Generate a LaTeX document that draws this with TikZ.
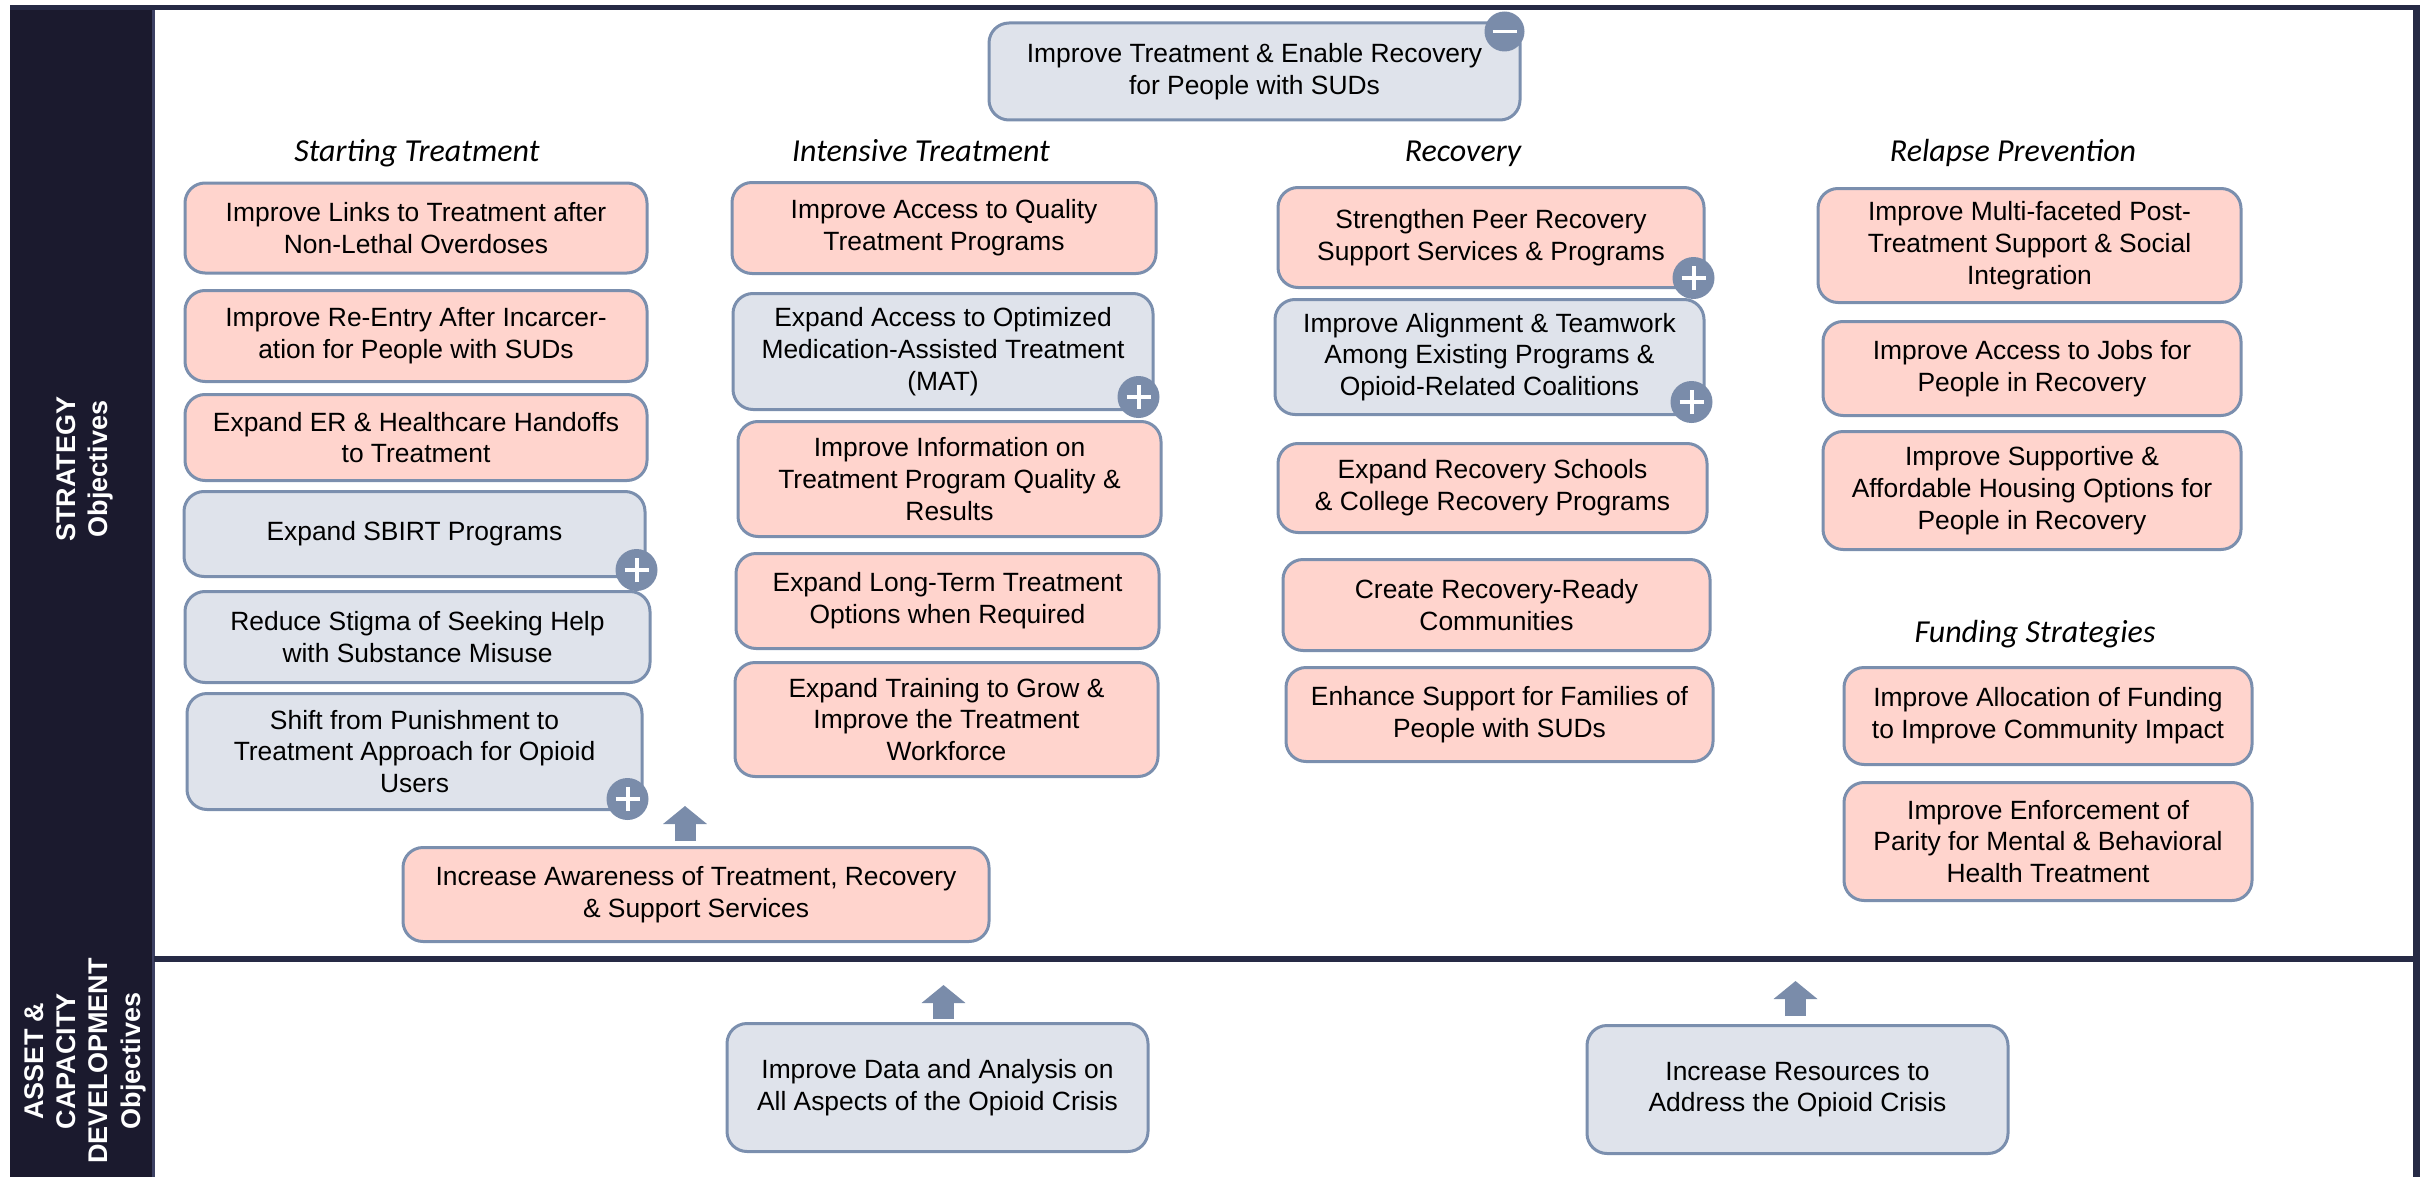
\documentclass[tikz,border=0pt]{standalone}
\usepackage{fontspec}
\setmainfont{Liberation Sans}
\newfontfamily\headfont{Carlito}
\usetikzlibrary{arrows.meta,positioning}
\definecolor{pinkc}{HTML}{FFD4CD}
\definecolor{grayc}{HTML}{DFE3EB}
\definecolor{edgec}{HTML}{7B8FAE}
\definecolor{markc}{HTML}{7A8CAA}
\definecolor{framec}{HTML}{262A45}
\definecolor{sidec}{HTML}{1B1A2E}
\definecolor{sideedge}{HTML}{3D4163}
\tikzset{>=Triangle,
  obj/.style={draw=edgec, line width=1.5pt, rounded corners=10pt, align=center,
    inner sep=2pt, font=\fontsize{13.2}{15.85}\selectfont},
  pinkobj/.style={obj, fill=pinkc},
  grayobj/.style={obj, fill=grayc},
  head/.style={anchor=base, font=\headfont\itshape\fontsize{16}{18}\selectfont},
  side/.style={text=white, align=center, rotate=90, font=\bfseries\fontsize{13.5}{16.2}\selectfont},
  plusmark/.style={circle, fill=markc, minimum size=21pt, inner sep=0pt,
    path picture={\draw[white, line width=2pt]
      ([xshift=-6pt]path picture bounding box.center) -- ([xshift=6pt]path picture bounding box.center)
      ([yshift=-6pt]path picture bounding box.center) -- ([yshift=6pt]path picture bounding box.center);}},
  minusmark/.style={circle, fill=markc, minimum size=20pt, inner sep=0pt,
    path picture={\draw[white, line width=1.8pt]
      ([xshift=-6pt]path picture bounding box.center) -- ([xshift=6pt]path picture bounding box.center);}},
  blockarrow/.style={draw=markc, line width=10.5pt, -{Triangle[width=21.5pt,length=9pt]}}
}

\begin{document}
\begin{tikzpicture}[x=0.5pt,y=-0.5pt]
    \useasboundingbox (0,0) rectangle (2420,1177);
    \fill[sidec] (10,5) rectangle (154,1177);
    \draw[sideedge, line width=1.5pt] (153,10) -- (153,1177);
    \draw[framec, line width=2.5pt] (10,7.5) -- (2420,7.5);
    \draw[framec, line width=3.5pt] (2416.5,7.5) -- (2416.5,1177);
    \draw[framec, line width=3pt] (154,959) -- (2416,959);

    \node[side] (sideS) at (85,469) {STRATEGY\\Objectives};
    \node[side] (sideA) at (85,1061) {ASSET \&\\CAPACITY\\DEVELOPMENT\\Objectives};

    \node[grayobj, minimum width=265.5pt, minimum height=48.5pt] (top) at (1254.5,71.5)
        {Improve Treatment \& Enable Recovery\\for People with SUDs};
    \node[minusmark] (topm) at ([xshift=-8.5pt,yshift=-5pt]top.north east) {};

    \node[head] (hST) at (417,162) {Starting Treatment};
    \node[head] (hIT) at (921,162) {Intensive Treatment};
    \node[head] (hRC) at (1463,162) {Recovery};
    \node[head] (hRP) at (2013,162) {Relapse Prevention};
    \node[head] (hFS) at (2035,642) {Funding Strategies};

    \node[pinkobj, minimum width=231pt, minimum height=45pt] (st1) at (416,228)
        {Improve Links to Treatment after\\Non-Lethal Overdoses};
    \node[pinkobj, minimum width=231pt, minimum height=45.5pt] (st2) at (416,336)
        {Improve Re-Entry After Incarcer-\\ation for People with SUDs};
    \node[pinkobj, minimum width=231pt, minimum height=43pt] (st3) at (416,437.5)
        {Expand ER \& Healthcare Handoffs\\to Treatment};
    \node[grayobj, minimum width=230.5pt, minimum height=42.5pt] (st4) at (414.5,534)
        {Expand SBIRT Programs};
    \node[grayobj, minimum width=232.5pt, minimum height=45.5pt] (st5) at (417.5,637)
        {Reduce Stigma of Seeking Help\\with Substance Misuse};
    \node[grayobj, minimum width=227.5pt, minimum height=58pt] (st6) at (414.5,751.5)
        {Shift from Punishment to\\Treatment Approach for Opioid\\Users};
    \node[plusmark] (st4p) at ([xshift=-5pt,yshift=4pt]st4.south east) {};
    \node[plusmark] (st6p) at ([xshift=-8pt,yshift=6pt]st6.south east) {};

    \node[pinkobj, minimum width=212pt, minimum height=45.5pt] (it1) at (944,228)
        {Improve Access to Quality\\Treatment Programs};
    \node[grayobj, minimum width=210pt, minimum height=58pt] (it2) at (943,351.5)
        {Expand Access to Optimized\\Medication-Assisted Treatment\\(MAT)};
    \node[pinkobj, minimum width=211.5pt, minimum height=57.5pt] (it3) at (949.5,479)
        {Improve Information on\\Treatment Program Quality \&\\Results};
    \node[pinkobj, minimum width=211.5pt, minimum height=47.5pt] (it4) at (947.5,601)
        {Expand Long-Term Treatment\\Options when Required};
    \node[pinkobj, minimum width=211.5pt, minimum height=57pt] (it5) at (946.5,719.5)
        {Expand Training to Grow \&\\Improve the Treatment\\Workforce};
    \node[plusmark] (it2p) at ([xshift=-8pt,yshift=7pt]it2.south east) {};

    \node[pinkobj, minimum width=213pt, minimum height=50pt] (rc1) at (1491,237.5)
        {Strengthen Peer Recovery\\Support Services \& Programs};
    \node[grayobj, minimum width=214.5pt, minimum height=57.5pt] (rc2) at (1489.5,357)
        {Improve Alignment \& Teamwork\\Among Existing Programs \&\\Opioid-Related Coalitions};
    \node[pinkobj, minimum width=214.5pt, minimum height=44.5pt] (rc3) at (1492.5,488)
        {Expand Recovery Schools\\\& College Recovery Programs};
    \node[pinkobj, minimum width=213.5pt, minimum height=45.5pt] (rc4) at (1496.5,605)
        {Create Recovery-Ready\\Communities};
    \node[pinkobj, minimum width=213.5pt, minimum height=47pt] (rc5) at (1499.5,714.5)
        {Enhance Support for Families of\\People with SUDs};
    \node[plusmark] (rc1p) at ([xshift=-6pt,yshift=5.5pt]rc1.south east) {};
    \node[plusmark] (rc2p) at ([xshift=-7pt,yshift=7pt]rc2.south east) {};

    \node[pinkobj, minimum width=211.5pt, minimum height=57pt] (rp1) at (2029.5,245.5)
        {Improve Multi-faceted Post-\\Treatment Support \& Social\\Integration};
    \node[pinkobj, minimum width=209pt, minimum height=47pt] (rp2) at (2032,368.5)
        {Improve Access to Jobs for\\People in Recovery};
    \node[pinkobj, minimum width=209pt, minimum height=59pt] (rp3) at (2032,490.5)
        {Improve Supportive \&\\Affordable Housing Options for\\People in Recovery};
    \node[pinkobj, minimum width=204pt, minimum height=48.5pt] (fs1) at (2048,716)
        {Improve Allocation of Funding\\to Improve Community Impact};
    \node[pinkobj, minimum width=204pt, minimum height=59pt] (fs2) at (2048,841.5)
        {Improve Enforcement of\\Parity for Mental \& Behavioral\\Health Treatment};

    \node[pinkobj, minimum width=293pt, minimum height=47pt] (aw) at (696,894.5)
        {Increase Awareness of Treatment, Recovery\\\& Support Services};
    \draw[blockarrow] ([xshift=-5.5pt,yshift=2.5pt]aw.north) -- ++(0,17.5pt);

    \node[grayobj, minimum width=210.5pt, minimum height=64pt] (da) at (937.5,1087.5)
        {Improve Data and Analysis on\\All Aspects of the Opioid Crisis};
    \node[grayobj, minimum width=210.5pt, minimum height=64pt] (rs) at (1797.5,1089.5)
        {Increase Resources to\\Address the Opioid Crisis};
    \draw[blockarrow] ([xshift=3pt,yshift=1.5pt]da.north) -- ++(0,17pt);
    \draw[blockarrow] ([xshift=-1pt,yshift=4pt]rs.north) -- ++(0,17.5pt);
\end{tikzpicture}
\end{document}
